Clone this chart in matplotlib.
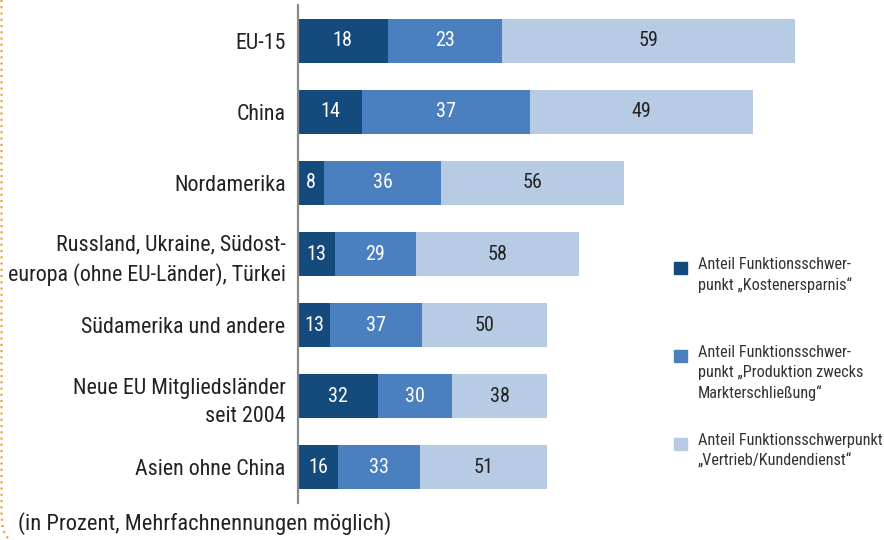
import matplotlib
matplotlib.use("Agg")
import matplotlib.pyplot as plt
import numpy as np
from matplotlib.lines import Line2D
from matplotlib.patches import Rectangle

plt.rcParams["font.family"] = ["Roboto Condensed", "DejaVu Sans"]

regions = [
    "EU-15",
    "China",
    "Nordamerika",
    "Russland, Ukraine, Südost-\neuropa (ohne EU-Länder), Türkei",
    "Südamerika und andere",
    "Neue EU Mitgliedsländer\nseit 2004",
    "Asien ohne China",
]
# relative bar length (Asien = 100)
bar_scale = [200, 183, 131, 113, 100, 100, 100]
kosten = [18, 14, 8, 13, 13, 32, 16]
produktion = [23, 37, 36, 29, 37, 30, 33]
vertrieb = [59, 49, 56, 58, 50, 38, 51]

series_labels = [
    "Anteil Funktionsschwer-\npunkt „Kostenersparnis“",
    "Anteil Funktionsschwer-\npunkt „Produktion zwecks\nMarkterschließung“",
    "Anteil Funktionsschwerpunkt\n„Vertrieb/Kundendienst“",
]
colors = ["#154a7c", "#4a80c0", "#b7cbe4"]
text_colors = ["white", "white", "#222222"]

fig = plt.figure(figsize=(8.84, 5.40), dpi=100)
ax = fig.add_axes([298 / 884, 1 - 503 / 540, 586 / 884, 498 / 540])

y = np.arange(len(regions))
scale = np.array(bar_scale) / 100.0
left = np.zeros(len(regions))
for vals, col, tcol in zip([kosten, produktion, vertrieb], colors, text_colors):
    widths = np.array(vals) * scale
    ax.barh(y, widths, left=left, height=0.62, color=col, edgecolor="none")
    for yi, l, w, v in zip(y, left, widths, vals):
        ax.text(l + w / 2, yi, str(v), ha="center", va="center",
                color=tcol, fontsize=14.5)
    left = left + widths

ax.set_xlim(0, 586 / 2.487)
ax.set_ylim(6.5, -0.5)
ax.set_yticks(y)
ax.set_yticklabels(regions, fontsize=15.8, color="#222222", linespacing=1.42)
ax.tick_params(axis="y", length=0, pad=9)
ax.set_xticks([])
for s in ["top", "right", "bottom"]:
    ax.spines[s].set_visible(False)
ax.spines["left"].set_color("#8a8a8a")
ax.spines["left"].set_linewidth(1.6)

# legend, drawn by hand
leg_tops = [262, 350, 438]
for top, lab, col in zip(leg_tops, series_labels, colors):
    fig.patches.append(Rectangle((674 / 884, 1 - (top + 12) / 540), 13 / 884, 12 / 540,
                                 transform=fig.transFigure, color=col))
    fig.text(698 / 884, 1 - (top - 5) / 540, lab, ha="left", va="top",
             fontsize=11.7, color="#333333", linespacing=1.4)

fig.text(18 / 884, 1 - 524 / 540, "(in Prozent, Mehrfachnennungen möglich)",
         ha="left", va="center", fontsize=16.2, color="#222222")

# orange dotted frame edge
fig.lines.append(Line2D([1.5 / 884, 1.5 / 884, 3 / 884, 9 / 884],
                        [1, 1 - 515 / 540, 1 - 530 / 540, 0],
                        transform=fig.transFigure, color="#f39a1e",
                        linestyle=(0, (1, 2)), linewidth=1.5))

fig.savefig("out.png", dpi=100)
